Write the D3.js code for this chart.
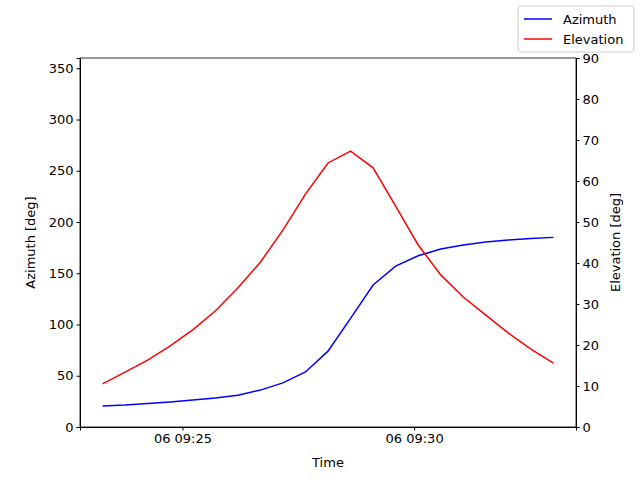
<!DOCTYPE html>
<html><head><meta charset="utf-8">
<script src="https://cdn.jsdelivr.net/npm/d3@7"></script>
<style>body{margin:0;background:#fff}text{font-family:"DejaVu Sans",sans-serif}</style>
</head><body><svg id="c" width="640" height="480"></svg>
<script>
const startTime = "2024-01-06T09:23:16.5";
const stepSeconds = 29.2;
const azimuth = [20.5,21.5,23,24.5,26.3,28.3,31,36,43,53.7,74,106,138.5,157,167,173.6,177.5,180.5,182.4,184,185];
const elevation = [10.5,13.4,16.3,19.8,23.7,28.3,33.9,40.2,48,56.8,64.4,67.3,63.2,53.9,44.4,37.1,31.7,27.3,22.9,19,15.6];
const leftTicks = [0,50,100,150,200,250,300,350];
const rightTicks = [0,10,20,30,40,50,60,70,80,90];
const xTickLabels = ["2024-01-06T09:25:00","2024-01-06T09:30:00"];
const t0 = new Date(startTime);
const times = azimuth.map((_,i)=>new Date(t0.getTime()+i*stepSeconds*1000));
const svg = d3.select("#c");
const L=80,R=576,T=58,B=427;
const span = times[times.length-1]-times[0];
const x = d3.scaleTime().domain([new Date(+times[0]-span*0.05), new Date(+times[times.length-1]+span*0.05)]).range([L,R]);
const yA = d3.scaleLinear().domain([0,360]).range([B,T]);
const yE = d3.scaleLinear().domain([0,90]).range([B,T]);
const fmt = d3.timeFormat("%d %H:%M");
const fs = 13;
svg.append("g").attr("transform",`translate(0,${B})`).call(d3.axisBottom(x).tickValues(xTickLabels.map(s=>new Date(s))).tickFormat(fmt).tickSizeOuter(0).tickSize(3.5)).call(g=>g.selectAll("text").attr("font-size",fs).attr("fill","#000"));
svg.append("g").attr("transform",`translate(${L},0)`).call(d3.axisLeft(yA).tickValues(leftTicks).tickSizeOuter(0).tickSize(3.5)).call(g=>g.selectAll("text").attr("font-size",fs).attr("fill","#000"));
svg.append("g").attr("transform",`translate(${R},0)`).call(d3.axisRight(yE).tickValues(rightTicks).tickSizeOuter(0).tickSize(3.5)).call(g=>g.selectAll("text").attr("font-size",fs).attr("fill","#000"));
svg.append("rect").attr("x",L).attr("y",T).attr("width",R-L).attr("height",B-T).attr("fill","none").attr("stroke","#000").attr("stroke-width",0.8);
svg.selectAll(".domain").attr("stroke","#000");
svg.append("path").datum(azimuth).attr("fill","none").attr("stroke","blue").attr("stroke-width",1.5)
 .attr("d",d3.line().x((d,i)=>x(times[i])).y(d=>yA(d)));
svg.append("path").datum(elevation).attr("fill","none").attr("stroke","red").attr("stroke-width",1.5)
 .attr("d",d3.line().x((d,i)=>x(times[i])).y(d=>yE(d)));
svg.append("text").attr("x",(L+R)/2).attr("y",467).attr("text-anchor","middle").attr("font-size",fs).text("Time");
svg.append("text").attr("transform",`translate(35,${(T+B)/2}) rotate(-90)`).attr("text-anchor","middle").attr("font-size",fs).text("Azimuth [deg]");
svg.append("text").attr("transform",`translate(620,${(T+B)/2}) rotate(-90)`).attr("text-anchor","middle").attr("font-size",fs).text("Elevation [deg]");
const lg = svg.append("g");
lg.append("rect").attr("x",518).attr("y",6).attr("width",116).attr("height",46).attr("rx",3).attr("fill","#fff").attr("stroke","#ccc");
[["Azimuth","blue"],["Elevation","red"]].forEach((d,i)=>{
 const yy=19+i*20;
 lg.append("line").attr("x1",524).attr("x2",552).attr("y1",yy).attr("y2",yy).attr("stroke",d[1]).attr("stroke-width",1.5);
 lg.append("text").attr("x",563).attr("y",yy+4.5).attr("font-size",fs).text(d[0]);
});
</script></body></html>
